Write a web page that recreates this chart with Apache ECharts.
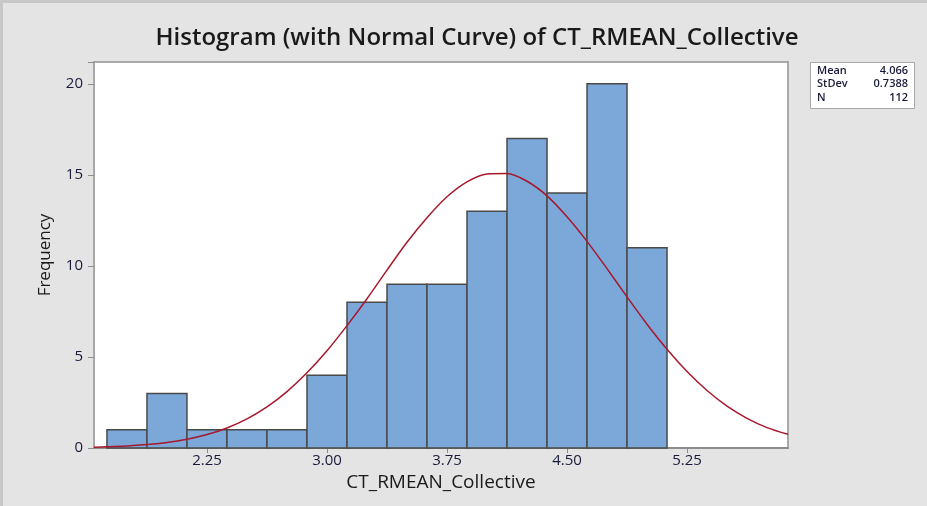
<!DOCTYPE html>
<html>
<head>
<meta charset="utf-8">
<script src="https://cdn.jsdelivr.net/npm/echarts@6/dist/echarts.min.js"></script>
<style>
  html, body { margin: 0; padding: 0; background: #e4e4e4; }
  #chart { width: 927px; height: 506px; }
</style>
</head>
<body>
<div id="chart"></div>
<script>
// histogram bins (centres) and counts, bin width 0.25
const binCenters = [1.75, 2.0, 2.25, 2.5, 2.75, 3.0, 3.25, 3.5, 3.75, 4.0, 4.25, 4.5, 4.75, 5.0];
const binCounts = [1, 3, 1, 1, 1, 4, 8, 9, 9, 13, 17, 14, 20, 11];
const binWidth = 0.25;

// normal curve
const curveX = [1.544, 1.625, 1.75, 1.875, 2.0, 2.125, 2.25, 2.375, 2.5, 2.625, 2.75, 2.875,
  3.0, 3.125, 3.25, 3.375, 3.5, 3.625, 3.75, 3.875, 4.0, 4.125, 4.25, 4.375, 4.5, 4.625,
  4.75, 4.875, 5.0, 5.125, 5.25, 5.375, 5.5, 5.625, 5.75, 5.881];
const curveY = [0.04, 0.07, 0.11, 0.19, 0.30, 0.48, 0.74, 1.10, 1.60, 2.26, 3.10, 4.13,
  5.34, 6.72, 8.2, 9.77, 11.3, 12.65, 13.8, 14.62, 15.05, 15.07, 14.65, 13.85, 12.7, 11.35,
  9.85, 8.3, 6.8, 5.42, 4.2, 3.16, 2.3, 1.63, 1.12, 0.75];

const xTicks = [2.25, 3.0, 3.75, 4.5, 5.25];
const yTicks = [0, 5, 10, 15, 20];

const stats = [['Mean', '4.066'], ['StDev', '0.7388'], ['N', '112']];

const chart = echarts.init(document.getElementById('chart'));

const font = 'Open Sans';
const statText = [];
stats.forEach((s, i) => {
  statText.push({
    type: 'text', left: 817, top: 65 + i * 13.5,
    style: { text: s[0], font: '600 11px "Open Sans"', fill: '#1a1a3a' }
  });
  statText.push({
    type: 'text', right: 19, top: 65 + i * 13.5,
    style: { text: s[1], font: '600 11px "Open Sans"', fill: '#1a1a3a', align: 'right' }
  });
});

chart.setOption({
  animation: false,
  backgroundColor: '#e4e4e4',
  title: {
    text: 'Histogram (with Normal Curve) of CT_RMEAN_Collective',
    left: 472, top: 21, textAlign: 'center',
    textStyle: { fontFamily: font, fontSize: 24, fontWeight: 600, color: '#1a1a1a' }
  },
  grid: {
    left: 94, right: 139, top: 62, bottom: 58,
    show: true, backgroundColor: '#ffffff', borderColor: '#a8a8a8', borderWidth: 2
  },
  xAxis: {
    type: 'value', min: 1.544, max: 5.881,
    name: 'CT_RMEAN_Collective', nameLocation: 'middle', nameGap: 24,
    nameTextStyle: { fontFamily: font, fontSize: 19, color: '#1a1a1a' },
    axisLine: { show: true, lineStyle: { color: '#8c8c8c', width: 2 } },
    axisTick: { show: true, customValues: xTicks, length: 5, lineStyle: { color: '#8c8c8c' } },
    axisLabel: {
      customValues: xTicks, margin: 5,
      formatter: v => v.toFixed(2),
      fontFamily: font, fontSize: 15, color: '#1a1a3a'
    },
    splitLine: { show: false }
  },
  yAxis: {
    type: 'value', min: 0, max: 21.2, interval: 5,
    name: 'Frequency', nameLocation: 'middle', nameGap: 40,
    nameTextStyle: { fontFamily: font, fontSize: 17, color: '#1a1a1a' },
    axisLine: { show: true, lineStyle: { color: '#a8a8a8', width: 2 } },
    axisTick: { show: true, length: 6, lineStyle: { color: '#8c8c8c' } },
    axisLabel: {
      customValues: yTicks, margin: 11,
      fontFamily: font, fontSize: 15, color: '#1a1a3a'
    },
    splitLine: { show: false }
  },
  graphic: [
    { type: 'rect', left: 0, top: 0, shape: { width: 927, height: 3 }, style: { fill: '#c8c8c8' } },
    { type: 'rect', left: 0, top: 0, shape: { width: 3, height: 506 }, style: { fill: '#c8c8c8' } },
    {
      type: 'rect', left: 810, top: 62,
      shape: { width: 104, height: 46 },
      style: { fill: '#ffffff', stroke: '#a8a8a8', lineWidth: 1 }
    }
  ].concat(statText),
  series: [
    {
      type: 'custom',
      data: binCenters.map((c, i) => [c, binCounts[i]]),
      renderItem: (params, api) => {
        const c = api.value(0);
        const n = api.value(1);
        const p0 = api.coord([c - binWidth / 2, n]);
        const p1 = api.coord([c + binWidth / 2, 0]);
        return {
          type: 'rect',
          shape: { x: p0[0], y: p0[1], width: p1[0] - p0[0], height: p1[1] - p0[1] },
          style: { fill: '#7ba7d9', stroke: '#4a4a4a', lineWidth: 1.5 }
        };
      },
      z: 2
    },
    {
      type: 'line',
      data: curveX.map((x, i) => [x, curveY[i]]),
      smooth: 0.3, showSymbol: false,
      lineStyle: { color: '#a8182c', width: 1.5 },
      z: 3
    }
  ]
});
</script>
</body>
</html>
